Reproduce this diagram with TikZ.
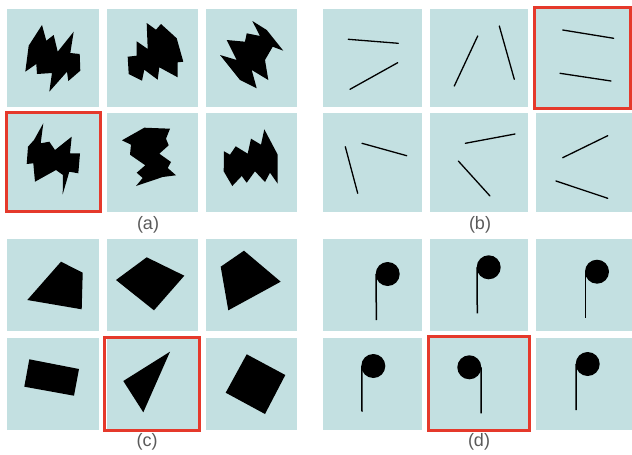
\documentclass[tikz,border=0pt]{standalone}
\usepackage{fontspec}
\setmainfont{Liberation Sans}
\definecolor{tilec}{HTML}{C3E0E1}
\definecolor{redc}{HTML}{E5392B}
\definecolor{labc}{HTML}{5A5A5A}
\begin{document}
\begin{tikzpicture}[x=1pt,y=-1pt,
  tile/.style={fill=tilec,draw=none},
  blk/.style={fill=black,draw=none},
  seg/.style={draw=black,line width=1.3pt,line cap=round},
  stem/.style={draw=black,line width=1.5pt},
  redbox/.style={draw=redc,line width=3pt},
  lab/.style={text=labc,font=\fontsize{18}{18}\selectfont,inner sep=0pt}]
\useasboundingbox (0,0) rectangle (632,455);
% tiles
\foreach \xa/\xb in {7.3/99.3,106.7/198.3,205.7/297.3}{
  \foreach \ya/\yb in {9/107,113.3/211.7,239/331,337.7/430}{
    \fill[tilec] (\xa,\ya) rectangle (\xb,\yb);}}
\foreach \xa/\xb in {323.3/422,430/528,536/632}{
  \foreach \ya/\yb in {9/107,113.3/211.7,239/331,337.7/430}{
    \fill[tilec] (\xa,\ya) rectangle (\xb,\yb);}}
% (a) zigzag shapes
\fill[blk] (42,25) -- (46.3,40.7) -- (53.7,35) -- (57.7,51.7) -- (73.7,31.7) -- (70.3,53) -- (79.7,54) -- (80.3,70.7) -- (68.3,81) -- (67,71.7) -- (49.3,91.7) -- (52,73) -- (37,74) -- (36.3,64) -- (25.3,71.7) -- (28.7,45.7) -- cycle;
\fill[blk] (146.7,23) -- (156,29.7) -- (161,24) -- (176.7,38.3) -- (183.3,61.7) -- (177.7,62.3) -- (177.7,77.3) -- (159.3,67.3) -- (157.7,79.7) -- (144.3,69.7) -- (142,80.7) -- (128.7,74) -- (127.7,56.7) -- (136.7,55.7) -- (136.7,41.3) -- (147.7,49) -- cycle;
\fill[blk] (252.3,21) -- (266.7,30) -- (283.3,50.7) -- (272.7,46.7) -- (265,60) -- (268.3,80) -- (251.7,70) -- (256.7,88.3) -- (240,80) -- (220,55) -- (236.7,60) -- (226.7,40) -- (245,41.7) -- (246.7,33.3) -- (260,36) -- cycle;
\fill[blk] (43.3,123.3) -- (40.7,143.3) -- (49.3,141.7) -- (55,150) -- (71.7,136.7) -- (70,153.3) -- (80,153.3) -- (78.3,173.3) -- (69.3,171.7) -- (62.7,194.3) -- (63,175) -- (56,170) -- (35,181.7) -- (33.3,163.3) -- (26.7,164) -- (28,146.7) -- (34,140) -- cycle;
\fill[blk] (122,140.3) -- (144.3,127.7) -- (170,128.7) -- (166,138.7) -- (168.7,145.3) -- (159.3,153.7) -- (171,162) -- (167.7,168) -- (176,175.3) -- (162.7,177) -- (136,186) -- (142.7,178) -- (136.7,172.7) -- (145.3,165.3) -- (130,154.7) -- (131,144.7) -- cycle;
\fill[blk] (224,151.3) -- (230,154.7) -- (235.7,146.3) -- (247.7,153.7) -- (251,138.7) -- (261,144.7) -- (264.3,129.3) -- (277.7,154.7) -- (277.7,183.7) -- (270,172.7) -- (265,182) -- (255,171.3) -- (246.7,182.7) -- (241.7,176) -- (232.3,186) -- (223.7,171.3) -- cycle;
% (b) line pairs
\draw[seg] (348.3,39.3) -- (398.3,43.3);
\draw[seg] (350,89.3) -- (397.7,62.7);
\draw[seg] (454.3,86) -- (477.7,36);
\draw[seg] (499.3,26) -- (514.3,79.3);
\draw[seg] (562.7,30) -- (613.7,38.3);
\draw[seg] (560,73.3) -- (611,81);
\draw[seg] (345.3,146.7) -- (357.7,193.3);
\draw[seg] (362,143.3) -- (406.7,155.7);
\draw[seg] (465.3,143.3) -- (515,134);
\draw[seg] (458.3,161) -- (490,196);
\draw[seg] (562.7,157.7) -- (607.7,135.7);
\draw[seg] (556,181) -- (607.7,198.3);
% (c) polygons
\fill[blk] (27.3,300) -- (61,261.7) -- (82.7,272.7) -- (81.7,309.3) -- cycle;
\fill[blk] (116,280) -- (146.7,257.3) -- (184.3,275.7) -- (154,310.3) -- cycle;
\fill[blk] (220.7,266.7) -- (244,250.7) -- (280.7,281.7) -- (228.3,310.3) -- cycle;
\fill[blk] (29.3,359.3) -- (79,369) -- (74,395.7) -- (24.3,386.7) -- cycle;
\fill[blk] (123.3,381) -- (170,351.7) -- (143.3,412.3) -- cycle;
\fill[blk] (246.7,354.3) -- (285.3,375) -- (265,414) -- (225.7,392.7) -- cycle;
% (d) notes
\fill[blk] (387.7,274) circle (12);
\draw[stem] (376,274) -- (376.4,320);
\fill[blk] (488.7,267.3) circle (12);
\draw[stem] (477,267.3) -- (477.3,313.3);
\fill[blk] (597,271.7) circle (12);
\draw[stem] (585.3,271.7) -- (585.3,318.3);
\fill[blk] (373.3,366) circle (12);
\draw[stem] (361.8,366) -- (362,411.7);
\fill[blk] (469.3,367.3) circle (12);
\draw[stem] (481,367.3) -- (481.2,413.3);
\fill[blk] (587.7,364) circle (12);
\draw[stem] (576,364) -- (576.2,410);
% red boxes
\draw[redbox] (6.2,112.5) rectangle (100.5,211.8);
\draw[redbox] (534.2,7.5) rectangle (630.5,108.5);
\draw[redbox] (104.8,337.2) rectangle (199.8,430.8);
\draw[redbox] (428.5,336.8) rectangle (529.5,430.8);
% labels
\node[lab] (la) at (148,225) {(a)};
\node[lab] (lb) at (480,225) {(b)};
\node[lab] (lc) at (147,442) {(c)};
\node[lab] (ld) at (479,442) {(d)};
\end{tikzpicture}
\end{document}
